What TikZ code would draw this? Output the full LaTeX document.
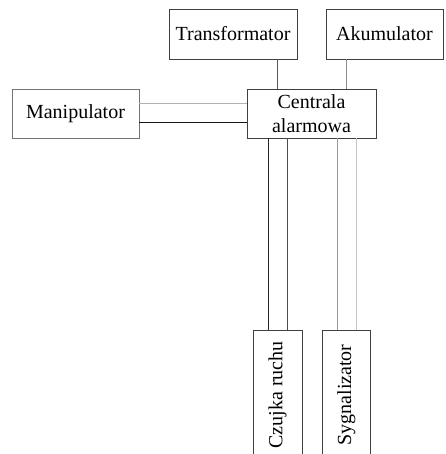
\documentclass[tikz,border=0pt]{standalone}
\usepackage{fontspec}
\setmainfont{Liberation Serif}
\begin{document}
\begin{tikzpicture}[x=1pt,y=-1pt,
  box/.style={draw=black!75, line width=0.9pt, inner sep=0pt, align=center,
    font=\fontsize{20}{23.5}\selectfont},
  wire/.style={line width=1pt}]
\useasboundingbox (0,0) rectangle (445,454);
\clip (0,0) rectangle (445,454);
\fill[white] (0,0) rectangle (445,454);
\node[box, minimum width=128pt, minimum height=50pt] (trans) at (233,34) {Transformator};
\node[box, minimum width=117pt, minimum height=50pt] (akum) at (384.5,34) {Akumulator};
\node[box, minimum width=129pt, minimum height=49pt] (centr) at (311.5,113.5) {Centrala\\alarmowa};
\node[box, draw=black!55, minimum width=127pt, minimum height=49pt] (manip) at (75.5,113.5) {Manipulator};
\node[box, minimum width=130pt, minimum height=49pt, rotate=90] (czujka) at (277.5,395) {Czujka ruchu};
\node[box, minimum width=130pt, minimum height=48.5pt, rotate=90] (sygn) at (346.25,395) {Sygnalizator};
% power connectors
\draw[wire, black!65] ([xshift=-34.5pt]centr.north) -- ([xshift=-34.5pt]centr.north |- trans.south);
\draw[wire, black!45] ([xshift=34.5pt]centr.north) -- ([xshift=34.5pt]centr.north |- akum.south);
% manipulator bus
\draw[wire, black!30] ([yshift=9.5pt]manip.east) -- ([yshift=9.5pt]manip.east -| centr.west);
\draw[wire, black!90] ([yshift=-9.5pt]manip.east) -- ([yshift=-9.5pt]manip.east -| centr.west);
% sensors
\draw[wire, black!85] ([xshift=-9.5pt]czujka.east |- centr.south) -- ([xshift=-9.5pt]czujka.east);
\draw[wire, black!70] ([xshift=10pt]czujka.east |- centr.south) -- ([xshift=10pt]czujka.east);
\draw[wire, black!40] ([xshift=-9.25pt]sygn.east |- centr.south) -- ([xshift=-9.25pt]sygn.east);
\draw[wire, black!22] ([xshift=9.75pt]sygn.east |- centr.south) -- ([xshift=9.75pt]sygn.east);
\end{tikzpicture}
\end{document}
